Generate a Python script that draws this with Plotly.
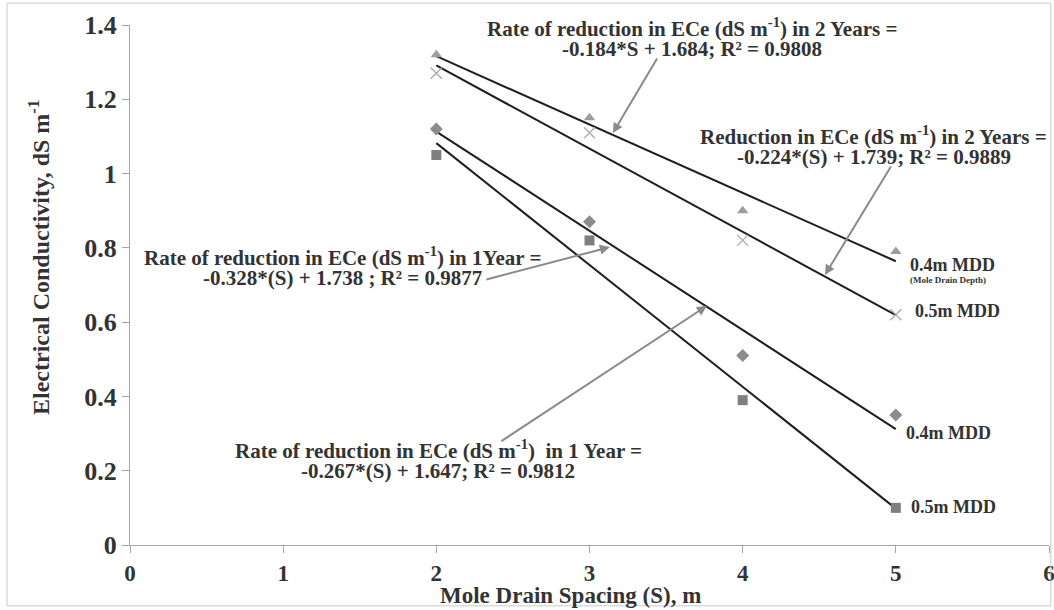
import numpy as np
import plotly.graph_objects as go

# Mole drain spacing (m) and measured ECe (dS m-1)
spacing = [2, 3, 4, 5]
ece_2yr_04 = [1.32, 1.15, 0.90, 0.79]   # 0.4 m MDD, after 2 years
ece_2yr_05 = [1.27, 1.11, 0.82, 0.62]   # 0.5 m MDD, after 2 years
ece_1yr_04 = [1.12, 0.87, 0.51, 0.35]   # 0.4 m MDD, after 1 year
ece_1yr_05 = [1.05, 0.82, 0.39, 0.10]   # 0.5 m MDD, after 1 year

# Linear trend coefficients (slope, intercept, R²) in the same series order
slopes = [-0.184, -0.224, -0.267, -0.328]
intercepts = [1.684, 1.739, 1.647, 1.738]
r_squared = [0.9808, 0.9889, 0.9812, 0.9877]

x_ticks = [0, 1, 2, 3, 4, 5, 6]
y_ticks = [0, 0.2, 0.4, 0.6, 0.8, 1.0, 1.2, 1.4]

FONT = "Liberation Serif"
TXT = "#333333"

fig = go.Figure()

# trend lines
trend_x = np.array([spacing[0], spacing[-1]], dtype=float)
for m, c in zip(slopes, intercepts):
    fig.add_trace(go.Scatter(
        x=trend_x, y=m * trend_x + c, mode="lines",
        line=dict(color="#1e1e1e", width=2), hoverinfo="skip", showlegend=False))

# observed points
marker_styles = [
    (ece_2yr_04, dict(symbol="triangle-up", size=10, color="#9c9c9c")),
    (ece_2yr_05, dict(symbol="x-thin", size=11, color="#a8a8a8",
                      line=dict(color="#a8a8a8", width=1.2))),
    (ece_1yr_04, dict(symbol="diamond", size=10, color="#8c8c8c")),
    (ece_1yr_05, dict(symbol="square", size=10, color="#7f7f7f")),
]
for ys, mk in marker_styles:
    fig.add_trace(go.Scatter(x=spacing, y=ys, mode="markers", marker=mk, showlegend=False))

SUP = "(dS m<sup>-1</sup>)"
LINE_GAP = 0.058  # vertical distance between the two lines of each equation label
eq_lines = [
    (f"Rate of reduction in ECe {SUP} in 2 Years =",
     f"{slopes[0]}*S + {intercepts[0]}; R² = {r_squared[0]}",
     3.668, 1.394),
    (f"Reduction in ECe {SUP} in 2 Years =",
     f"{slopes[1]}*(S) + {intercepts[1]}; R² = {r_squared[1]}",
     4.856, 1.103),
    (f"Rate of reduction in ECe {SUP} in 1Year =",
     f"{slopes[3]}*(S) + {intercepts[3]} ; R² = {r_squared[3]}",
     1.387, 0.777),
    (f"Rate of reduction in ECe {SUP}  in 1 Year =",
     f"{slopes[2]}*(S) + {intercepts[2]}; R² = {r_squared[2]}",
     2.012, 0.258),
]
annotations = []
for l1, l2, xc, y1 in eq_lines:
    for txt, yy in ((l1, y1), (l2, y1 - LINE_GAP)):
        annotations.append(dict(x=xc, y=yy, xref="x", yref="y", text=f"<b>{txt}</b>",
                                showarrow=False, xanchor="center", yanchor="middle",
                                font=dict(family=FONT, size=21, color=TXT)))

# arrows: (head x, head y, tail x, tail y)
arrows = [
    (3.153, 1.109, 3.447, 1.314),
    (4.537, 0.727, 4.974, 1.023),
    (3.133, 0.802, 2.317, 0.714),
    (3.766, 0.644, 2.415, 0.277),
]
for hx, hy, tx, ty in arrows:
    annotations.append(dict(x=hx, y=hy, ax=tx, ay=ty, xref="x", yref="y",
                            axref="x", ayref="y", text="", showarrow=True,
                            arrowhead=2, arrowsize=1, arrowwidth=2, arrowcolor="#8a8a8a"))

# series labels at the line ends
series_labels = [
    ("0.4m MDD", 5.078, 0.754, 18),
    ("(Mole Drain Depth)", 5.078, 0.714, 9),
    ("0.5m MDD", 5.111, 0.630, 18),
    ("0.4m MDD", 5.052, 0.302, 18),
    ("0.5m MDD", 5.085, 0.102, 18),
]
for txt, xx, yy, sz in series_labels:
    annotations.append(dict(x=xx, y=yy, xref="x", yref="y", text=f"<b>{txt}</b>",
                            showarrow=False, xanchor="left", yanchor="middle",
                            font=dict(family=FONT, size=sz, color=TXT)))

# axis titles
annotations.append(dict(x=0.479, y=-0.098, xref="paper", yref="paper",
                        text="<b>Mole Drain Spacing (S), m</b>", showarrow=False,
                        xanchor="center", yanchor="middle",
                        font=dict(family=FONT, size=23, color=TXT)))
annotations.append(dict(x=-0.099, y=0.552, xref="paper", yref="paper",
                        text="<b>Electrical Conductivity, dS m<sup>-1</sup></b>", showarrow=False,
                        textangle=-90, xanchor="center", yanchor="middle",
                        font=dict(family=FONT, size=24, color=TXT)))

axis_common = dict(showgrid=False, zeroline=False, showline=True, linecolor="#a6a6a6",
                   linewidth=1, ticks="outside", ticklen=7, tickcolor="#a6a6a6",
                   ticklabeloverflow="allow", automargin=False)

fig.update_layout(
    width=1054, height=610,
    margin=dict(l=130, r=5, t=25, b=65),
    paper_bgcolor="white", plot_bgcolor="white",
    showlegend=False,
    xaxis=dict(range=[0, 6], tickvals=x_ticks, ticktext=[f"<b>{v}</b>" for v in x_ticks],
               tickfont=dict(family=FONT, size=23, color=TXT), **axis_common),
    yaxis=dict(range=[0, 1.4], tickvals=y_ticks,
               ticktext=[f"<b>{v:g}</b>" for v in y_ticks],
               tickfont=dict(family=FONT, size=26, color=TXT), **axis_common),
    annotations=annotations,
    shapes=[dict(type="rect", xref="paper", yref="paper",
                 x0=-0.1338, x1=1.002, y0=-0.117, y1=1.042,
                 line=dict(color="#c8c8c8", width=1))],
)

fig.write_html("out.html")
